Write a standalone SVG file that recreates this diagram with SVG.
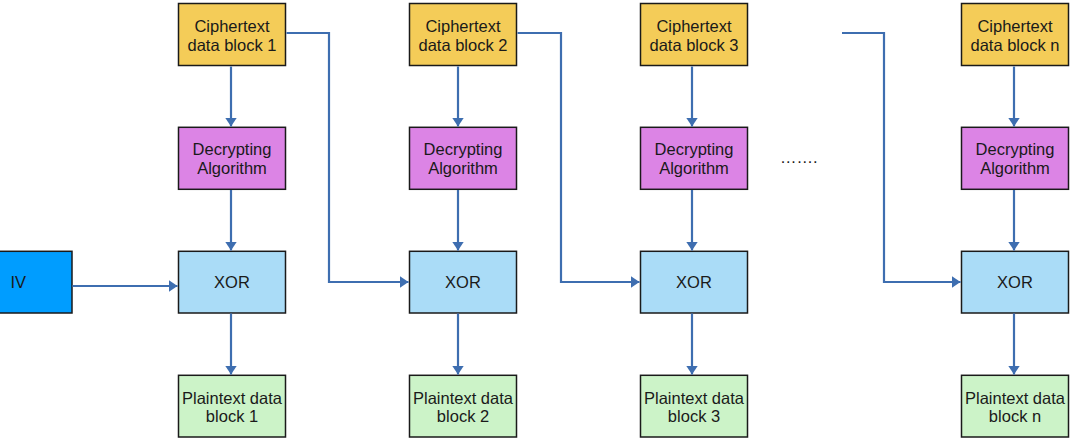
<svg xmlns="http://www.w3.org/2000/svg" width="1074" height="448" viewBox="0 0 1074 448">
<style>
  .box { stroke: #1a1a1a; stroke-width: 1.5; }
  .cipher { fill: #F4CC58; }
  .dec { fill: #DC84E5; }
  .xor { fill: #AADCF7; }
  .plain { fill: #CCF3C8; }
  .iv { fill: #009DFF; }
  text { font-family: "Liberation Sans", Arial, sans-serif; font-size: 16.5px; fill: #1a1a1a; text-anchor: middle; }
  .conn { fill: none; stroke: #3E6EB0; stroke-width: 2.2; marker-end: url(#arr); }
</style>
<defs>
  <marker id="arr" markerUnits="userSpaceOnUse" markerWidth="9" markerHeight="12" viewBox="0 0 9 12" refX="9" refY="6" orient="auto">
    <path d="M0,0 L9,6 L0,12 z" fill="#3E6EB0"/>
  </marker>
</defs>
<rect width="1074" height="448" fill="#ffffff"/>

<g id="iv">
  <rect class="box iv" x="-37" y="251.3" width="109" height="61.7"/>
  <text x="10.5" y="287.5" style="text-anchor:start">IV</text>
</g>

<g id="cipher1">
  <rect class="box cipher" x="178.5" y="3.5" width="107" height="62"/>
  <text x="232" y="31.8">Ciphertext</text>
  <text x="232" y="50.5">data block 1</text>
</g>
<g id="dec1">
  <rect class="box dec" x="178.5" y="127.3" width="107" height="62"/>
  <text x="232" y="155">Decrypting</text>
  <text x="232" y="173.5">Algorithm</text>
</g>
<g id="xor1">
  <rect class="box xor" x="178.5" y="251.3" width="107" height="61.7"/>
  <text x="232" y="287.5">XOR</text>
</g>
<g id="plain1">
  <rect class="box plain" x="178.5" y="375.3" width="107" height="61.7"/>
  <text x="232" y="403.5">Plaintext data</text>
  <text x="232" y="422">block 1</text>
</g>

<g id="cipher2">
  <rect class="box cipher" x="409.5" y="3.5" width="107" height="62"/>
  <text x="463" y="31.8">Ciphertext</text>
  <text x="463" y="50.5">data block 2</text>
</g>
<g id="dec2">
  <rect class="box dec" x="409.5" y="127.3" width="107" height="62"/>
  <text x="463" y="155">Decrypting</text>
  <text x="463" y="173.5">Algorithm</text>
</g>
<g id="xor2">
  <rect class="box xor" x="409.5" y="251.3" width="107" height="61.7"/>
  <text x="463" y="287.5">XOR</text>
</g>
<g id="plain2">
  <rect class="box plain" x="409.5" y="375.3" width="107" height="61.7"/>
  <text x="463" y="403.5">Plaintext data</text>
  <text x="463" y="422">block 2</text>
</g>

<g id="cipher3">
  <rect class="box cipher" x="640.5" y="3.5" width="107" height="62"/>
  <text x="694" y="31.8">Ciphertext</text>
  <text x="694" y="50.5">data block 3</text>
</g>
<g id="dec3">
  <rect class="box dec" x="640.5" y="127.3" width="107" height="62"/>
  <text x="694" y="155">Decrypting</text>
  <text x="694" y="173.5">Algorithm</text>
</g>
<g id="xor3">
  <rect class="box xor" x="640.5" y="251.3" width="107" height="61.7"/>
  <text x="694" y="287.5">XOR</text>
</g>
<g id="plain3">
  <rect class="box plain" x="640.5" y="375.3" width="107" height="61.7"/>
  <text x="694" y="403.5">Plaintext data</text>
  <text x="694" y="422">block 3</text>
</g>

<g id="ellipsis">
  <text x="780" y="163" style="text-anchor:start">…….</text>
</g>

<g id="ciphern">
  <rect class="box cipher" x="961.5" y="3.5" width="107" height="62"/>
  <text x="1015" y="31.8">Ciphertext</text>
  <text x="1015" y="50.5">data block n</text>
</g>
<g id="decn">
  <rect class="box dec" x="961.5" y="127.3" width="107" height="62"/>
  <text x="1015" y="155">Decrypting</text>
  <text x="1015" y="173.5">Algorithm</text>
</g>
<g id="xorn">
  <rect class="box xor" x="961.5" y="251.3" width="107" height="61.7"/>
  <text x="1015" y="287.5">XOR</text>
</g>
<g id="plainn">
  <rect class="box plain" x="961.5" y="375.3" width="107" height="61.7"/>
  <text x="1015" y="403.5">Plaintext data</text>
  <text x="1015" y="422">block n</text>
</g>

<g id="connectors">
  <path class="conn" d="M231,66.5 V126.5"/>
  <path class="conn" d="M231,190 V250.5"/>
  <path class="conn" d="M231,313.5 V374.5"/>
  <path class="conn" d="M458,66.5 V126.5"/>
  <path class="conn" d="M458,190 V250.5"/>
  <path class="conn" d="M458,313.5 V374.5"/>
  <path class="conn" d="M692,66.5 V126.5"/>
  <path class="conn" d="M692,190 V250.5"/>
  <path class="conn" d="M692,313.5 V374.5"/>
  <path class="conn" d="M1014,66.5 V126.5"/>
  <path class="conn" d="M1014,190 V250.5"/>
  <path class="conn" d="M1014,313.5 V374.5"/>
  <path class="conn" d="M72.5,286 H177.5"/>
  <path class="conn" d="M286.5,33 H329 V282 H408.5"/>
  <path class="conn" d="M517.5,33 H561 V282 H639.5"/>
  <path class="conn" d="M842,33 H884 V282 H960.5"/>
</g>
</svg>
